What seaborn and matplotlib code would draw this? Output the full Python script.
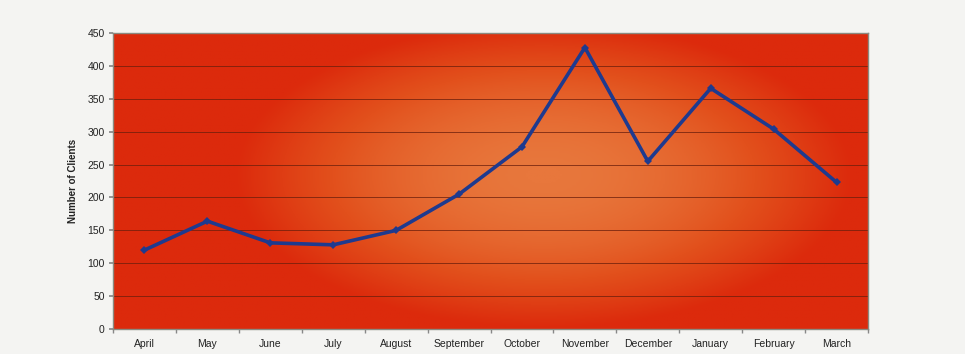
import numpy as np
import pandas as pd
import matplotlib
matplotlib.use("Agg")
import matplotlib.pyplot as plt
from matplotlib.colors import LinearSegmentedColormap
import seaborn as sns

months = ["April", "May", "June", "July", "August", "September", "October",
          "November", "December", "January", "February", "March"]
clients = [120, 164, 131, 128, 150, 205, 277, 428, 255, 366, 304, 223]
y_ticks = [0, 50, 100, 150, 200, 250, 300, 350, 400, 450]

sns.set_theme(style="white")
plt.rcParams["font.family"] = ["Liberation Sans", "DejaVu Sans"]

df = pd.DataFrame({"Month": months, "Clients": clients})
pos = np.arange(len(months))
df["pos"] = pos

fig = plt.figure(figsize=(9.65, 3.54), dpi=100, facecolor="#f4f4f2")
ax = fig.add_axes([0.1171, 0.0706, 0.7824, 0.836])

# soft, wide glow behind the plot area
gx, gy = np.meshgrid(np.linspace(0, 1, 400), np.linspace(0, 1, 200))
r2 = ((gx - 0.57) / 0.41) ** 2 + ((gy - 0.52) / 0.52) ** 2
glow = np.clip(1 - r2, 0, 1) ** 1.1
cmap = LinearSegmentedColormap.from_list("glow", ["#dc2a0c", "#e2501c", "#e8773c"])
ax.imshow(glow, cmap=cmap, extent=[-0.5, len(months) - 0.5, 0, 450],
          origin="lower", aspect="auto", zorder=0, vmin=0, vmax=1)

for t in y_ticks[1:-1]:
    ax.axhline(t, color="#6a1e0c", lw=0.7, alpha=0.75, zorder=1)

sns.lineplot(data=df, x="pos", y="Clients", sort=False, ax=ax, color="#1e3a8f",
             lw=2.6, marker="D", markersize=4.5, markeredgewidth=0, zorder=3)

ax.set_xlim(-0.5, len(months) - 0.5)
ax.set_ylim(0, 450)
ax.set_yticks(y_ticks)
ax.set_yticklabels([str(v) for v in y_ticks], fontsize=7.5, color="#222222")
ax.set_xticks(pos)
ax.set_xticklabels(months, fontsize=7.5, color="#222222")
ax.set_xticks(np.arange(-0.5, len(months)), minor=True)
ax.tick_params(axis="x", which="major", length=0, pad=7)
ax.tick_params(axis="x", which="minor", length=3, color="#888888", direction="out", bottom=True)
ax.tick_params(axis="y", length=3, color="#888888", direction="out", left=True, pad=3)
ax.set_xlabel("")
ax.set_ylabel("Number of Clients", fontsize=7, fontweight="bold", color="#222222", labelpad=7)
for s in ax.spines.values():
    s.set_color("#8a8a80")
    s.set_linewidth(1.0)

fig.savefig("out.png", dpi=100, facecolor=fig.get_facecolor())
